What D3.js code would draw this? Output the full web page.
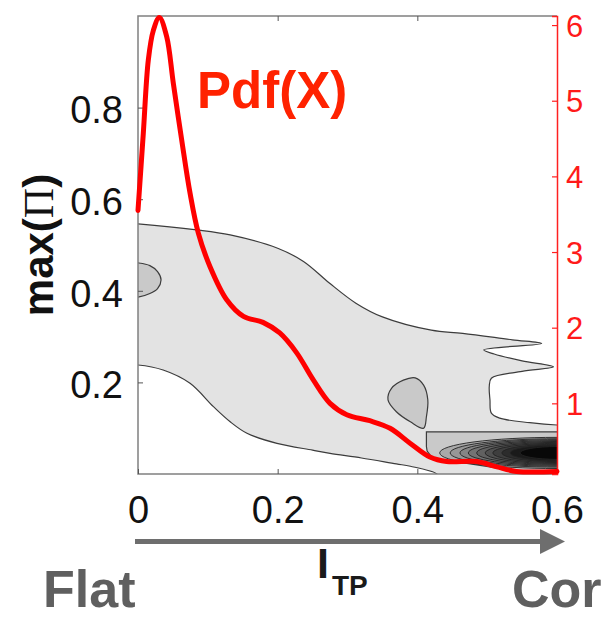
<!DOCTYPE html>
<html>
<head>
<meta charset="utf-8">
<script src="https://cdn.jsdelivr.net/npm/d3@7"></script>
<style>
  body { margin: 0; background: #fff; }
  text { font-family: "Liberation Sans", Arial, Helvetica, sans-serif; }
</style>
</head>
<body>
<div id="chart"></div>
<script>
// tick values
const xTicks = [0, 0.2, 0.4, 0.6];
const yTicks = [0.2, 0.4, 0.6, 0.8];
const pdfTicks = [1, 2, 3, 4, 5, 6];

// Pdf(X) curve (right axis)
const pdfX = [0, 0.0076, 0.0148, 0.022, 0.0305, 0.041, 0.0506, 0.0626, 0.0745, 0.0864, 0.103, 0.127, 0.151, 0.179,
              0.203, 0.227, 0.251, 0.275, 0.299, 0.332, 0.361, 0.39, 0.418, 0.442, 0.485, 0.514, 0.542, 0.6];
const pdfY = [3.55, 4.57, 5.54, 5.93, 6.10, 5.85, 5.23, 4.48, 3.78, 3.25, 2.81, 2.37, 2.15, 2.07,
              1.93, 1.67, 1.31, 1.0, 0.85, 0.77, 0.67, 0.47, 0.29, 0.23, 0.23, 0.16, 0.10, 0.10];

// outer contour: upper edge (with the two spikes), then lower edge
const outerUpper = [[-0.01, 0.547], [0, 0.546], [0.084, 0.533], [0.132, 0.522], [0.2, 0.493], [0.237, 0.464],
                    [0.274, 0.417], [0.312, 0.373], [0.35, 0.343], [0.42, 0.314], [0.465, 0.307], [0.536, 0.293],
                    [0.578, 0.285], [0.495, 0.271], [0.51, 0.262], [0.55, 0.247], [0.595, 0.234], [0.55, 0.224],
                    [0.506, 0.209], [0.503, 0.191], [0.504, 0.162], [0.506, 0.133], [0.518, 0.122], [0.561, 0.112],
                    [0.6, 0.107], [0.61, 0.107], [0.61, -0.01], [0.43, -0.01]];
const outerLower = [[0.428, 0.0], [0.39, 0.017], [0.37, 0.022], [0.32, 0.035], [0.275, 0.045], [0.25, 0.052],
                    [0.199, 0.067], [0.156, 0.089], [0.132, 0.114], [0.108, 0.147], [0.0745, 0.198], [0.036, 0.227],
                    [0, 0.238], [-0.01, 0.238]];

// inner (darker) contour patches
const blobLeft = [[-0.01, 0.462], [0, 0.461], [0.017, 0.455], [0.028, 0.442], [0.033, 0.424], [0.028, 0.405],
                  [0.017, 0.394], [0, 0.386], [-0.01, 0.386]];
const blobMid = [[0.397, 0.210], [0.409, 0.194], [0.415, 0.162], [0.413, 0.125], [0.409, 0.100], [0.390, 0.114],
                 [0.370, 0.136], [0.358, 0.162], [0.363, 0.187], [0.380, 0.205]];
const coreBox = [[0.413, 0.092], [0.61, 0.092], [0.61, 0.004], [0.542, 0.007], [0.518, 0.012], [0.471, 0.023],
                 [0.44, 0.027], [0.427, 0.032], [0.419, 0.04], [0.414, 0.05], [0.413, 0.06]];

// nested contours at the lower right corner: left tip and half height of each level
const coreCenter = 0.046;
const coreTip = [0.432, 0.447, 0.461, 0.473, 0.485, 0.497, 0.508, 0.521, 0.533, 0.547];
const coreHalf = [0.034, 0.031, 0.029, 0.027, 0.025, 0.023, 0.021, 0.019, 0.017, 0.014];

const W = 601, H = 626;
const margin = { top: 16, right: 44, bottom: 152, left: 138 };
const width = W - margin.left - margin.right;
const height = H - margin.top - margin.bottom;

const svg = d3.select("#chart").append("svg")
    .attr("width", W)
    .attr("height", H);

const g = svg.append("g")
    .attr("transform", `translate(${margin.left},${margin.top})`);

const x = d3.scaleLinear().domain([0, 0.6]).range([0, width]);
const y = d3.scaleLinear().domain([0, 1]).range([height, 0]);
const y2 = d3.scaleLinear().domain([0.066, 6.12]).range([height, 0]);

g.append("clipPath").attr("id", "plot")
  .append("rect").attr("width", width).attr("height", height);

const area = g.append("g").attr("clip-path", "url(#plot)");

const shape = d3.line()
    .x(d => x(d[0]))
    .y(d => y(d[1]))
    .curve(d3.curveCatmullRomClosed.alpha(0.5));

const poly = d3.line()
    .x(d => x(d[0]))
    .y(d => y(d[1]))
    .curve(d3.curveLinearClosed);

// light gray outer region
area.append("path")
    .attr("d", shape(outerUpper.concat(outerLower)))
    .attr("fill", "#e3e3e3")
    .attr("stroke", "#3c3c3c")
    .attr("stroke-width", 1.2);

// darker patches
area.selectAll(".blob")
  .data([blobLeft, blobMid])
  .join("path")
    .attr("d", shape)
    .attr("fill", "#c9c9c9")
    .attr("stroke", "#3c3c3c")
    .attr("stroke-width", 1.2);

area.append("path")
    .attr("d", poly(coreBox))
    .attr("fill", "#c9c9c9")
    .attr("stroke", "#3c3c3c")
    .attr("stroke-width", 1.2);

const shade = d3.scaleLinear().domain([0, coreTip.length - 1]).range(["#a9a9a9", "#080808"]);

area.selectAll(".core")
  .data(coreTip)
  .join("ellipse")
    .attr("cx", x(0.6))
    .attr("cy", y(coreCenter))
    .attr("rx", d => x(0.6) - x(d))
    .attr("ry", (d, i) => y(coreCenter - coreHalf[i]) - y(coreCenter))
    .attr("fill", (d, i) => shade(i))
    .attr("stroke", "#222")
    .attr("stroke-width", 0.9);

// frame
g.append("path")
    .attr("d", `M${width},0H0V${height}H${width}`)
    .attr("fill", "none")
    .attr("stroke", "#808080")
    .attr("stroke-width", 1.5);

// axes
const tickFont = 38;

const xAxis = g.append("g")
    .attr("transform", `translate(0,${height})`)
    .call(d3.axisBottom(x).tickValues(xTicks).tickFormat(d3.format("")).tickSize(-5).tickPadding(22));
const xTop = g.append("g")
    .call(d3.axisTop(x).tickValues([0.2, 0.4]).tickFormat("").tickSize(-5));
const yAxis = g.append("g")
    .call(d3.axisLeft(y).tickValues(yTicks).tickFormat(d3.format("")).tickSize(-5).tickPadding(15));

[xAxis, xTop, yAxis].forEach(a => {
  a.select(".domain").remove();
  a.selectAll("line").attr("stroke", "#555").attr("stroke-width", 1);
  a.selectAll("text").attr("font-size", tickFont).attr("fill", "#111");
});
yAxis.selectAll("text").attr("dy", "0.4em");

const rAxis = g.append("g")
    .attr("transform", `translate(${width},0)`)
    .call(d3.axisRight(y2).tickValues(pdfTicks).tickFormat(d3.format("d")).tickSize(-5).tickPadding(9));
rAxis.select(".domain").attr("stroke", "#ff2020").attr("stroke-width", 1.5);
rAxis.selectAll("line").attr("stroke", "#ff2020").attr("stroke-width", 1.2);
rAxis.selectAll("text").attr("font-size", 31).attr("fill", "#ff1a1a").attr("dy", "0.36em");

// Pdf(X) curve
const pdfLine = d3.line()
    .x((d, i) => x(pdfX[i]))
    .y(d => y2(d))
    .curve(d3.curveCatmullRom.alpha(0.5));

g.append("path")
    .attr("d", pdfLine(pdfY))
    .attr("fill", "none")
    .attr("stroke", "#ff0000")
    .attr("stroke-width", 5)
    .attr("stroke-linejoin", "round")
    .attr("stroke-linecap", "round");

g.append("text")
    .attr("x", 59).attr("y", 92)
    .attr("font-size", 51).attr("font-weight", "bold")
    .attr("fill", "#ff2200")
    .text("Pdf(X)");

// y label
const yl = svg.append("text")
    .attr("transform", "translate(53,245) rotate(-90)")
    .attr("text-anchor", "middle")
    .attr("font-size", 42).attr("font-weight", "bold")
    .attr("fill", "#111");
yl.append("tspan").text("max(");
yl.append("tspan").attr("font-family", "'Liberation Serif', 'Times New Roman', serif")
    .attr("font-weight", "normal").text("\u03A0");
yl.append("tspan").text(")");

// arrow under the x axis
svg.append("line")
    .attr("x1", 135).attr("x2", 545)
    .attr("y1", 541.5).attr("y2", 541.5)
    .attr("stroke", "#6e6e6e").attr("stroke-width", 5);
svg.append("path")
    .attr("d", "M540,529L565,541.5L540,554Z")
    .attr("fill", "#6e6e6e");

// x label I_TP
const xl = svg.append("text")
    .attr("x", 317).attr("y", 578)
    .attr("font-weight", "bold").attr("fill", "#1a1a1a");
xl.append("tspan").attr("font-size", 43).text("I");
xl.append("tspan").attr("font-size", 28).attr("dx", 3).attr("dy", 17).text("TP");

svg.append("text")
    .attr("x", 43).attr("y", 607)
    .attr("font-size", 52).attr("font-weight", "bold")
    .attr("fill", "#5f5f5f")
    .text("Flat");
svg.append("text")
    .attr("x", 512).attr("y", 607)
    .attr("font-size", 52).attr("font-weight", "bold")
    .attr("fill", "#5f5f5f")
    .text("Cor");
</script>
</body>
</html>
